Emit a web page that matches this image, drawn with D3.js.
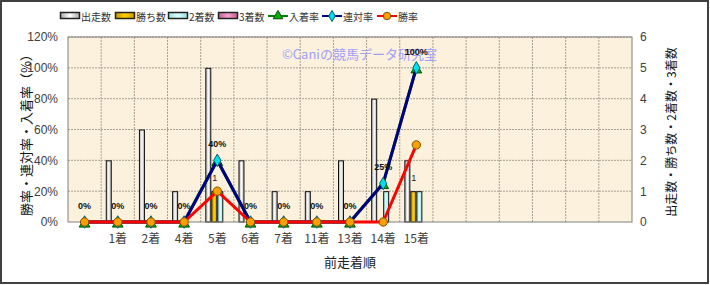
<!DOCTYPE html>
<html>
<head>
<meta charset="utf-8">
<script src="https://cdn.jsdelivr.net/npm/d3@7"></script>
<style>
body { margin: 0; background: #fff; }
svg text { font-family: "Liberation Sans", "Noto Sans CJK JP", sans-serif; }
.jp { font-family: "Noto Sans CJK JP", sans-serif; }
</style>
</head>
<body>
<svg id="chart" width="710" height="285"></svg>
<script>
// categories (17 columns, first and last six have no label)
var categories = ["", "1着", "2着", "4着", "5着", "6着", "7着", "11着", "13着", "14着", "15着", "", "", "", "", "", ""];

// bar series (right axis, counts) - one per labelled category
var starts  = [null, 2, 3, 1, 5, 2, 1, 1, 2, 4, 2];
var wins    = [null, 0, 0, 0, 1, 0, 0, 0, 0, 0, 1];
var seconds = [null, 0, 0, 0, 1, 0, 0, 0, 0, 1, 1];
var thirds  = [null, 0, 0, 0, 0, 0, 0, 0, 0, 0, 0];

// line series (left axis, %)
var placeRate  = [0, 0, 0, 0, 40, 0, 0, 0, 0, 25, 100];
var rentaiRate = [0, 0, 0, 0, 40, 0, 0, 0, 0, 25, 100];
var winRate    = [0, 0, 0, 0, 20, 0, 0, 0, 0, 0, 50];

var leftTicks = [0, 20, 40, 60, 80, 100, 120];
var rightTicks = [0, 1, 2, 3, 4, 5, 6];

var svg = d3.select("#chart");
var pLeft = 68, pRight = 632, pTop = 37, pBottom = 222;

// outer frame
svg.append("rect")
  .attr("x", 1).attr("y", 1).attr("width", 707).attr("height", 282)
  .attr("fill", "#fff").attr("stroke", "#404040").attr("stroke-width", 2);

var defs = svg.append("defs");
function grad(id, edge, mid) {
  var g = defs.append("linearGradient").attr("id", id)
    .attr("x1", "0%").attr("x2", "100%").attr("y1", "0%").attr("y2", "0%");
  g.append("stop").attr("offset", "0%").attr("stop-color", edge);
  g.append("stop").attr("offset", "50%").attr("stop-color", mid);
  g.append("stop").attr("offset", "100%").attr("stop-color", edge);
}
grad("gStart", "#a8a8a8", "#ffffff");
grad("gWin", "#c89400", "#ffd200");
grad("gSecond", "#9fdede", "#d8ffff");
grad("gThird", "#c06090", "#f8a0d0");

var x = d3.scaleBand().domain(d3.range(categories.length)).range([pLeft, pRight]);
var yL = d3.scaleLinear().domain([0, 120]).range([pBottom, pTop]);
var yR = d3.scaleLinear().domain([0, 6]).range([pBottom, pTop]);

// plot background
svg.append("rect")
  .attr("x", pLeft).attr("y", pTop).attr("width", pRight - pLeft).attr("height", pBottom - pTop)
  .attr("fill", "#fbf1dc");

// grid
svg.append("g").selectAll("line").data(leftTicks.slice(1)).enter().append("line")
  .attr("x1", pLeft).attr("x2", pRight)
  .attr("y1", function(d) { return yL(d); }).attr("y2", function(d) { return yL(d); })
  .attr("stroke", "#a8a090").attr("stroke-dasharray", "2,1");
svg.append("g").selectAll("line").data(d3.range(1, categories.length)).enter().append("line")
  .attr("x1", function(d) { return x(d); }).attr("x2", function(d) { return x(d); })
  .attr("y1", pTop).attr("y2", pBottom)
  .attr("stroke", "#a8a090").attr("stroke-dasharray", "2,1");

// watermark
svg.append("text").attr("class", "jp")
  .attr("x", 282).attr("y", 59)
  .attr("fill", "#a0a0f8").attr("font-size", 13)
  .text("©Caniの競馬データ研究室");

// bars
var series = [
  { name: "出走数", values: starts, fill: "url(#gStart)" },
  { name: "勝ち数", values: wins, fill: "url(#gWin)" },
  { name: "2着数", values: seconds, fill: "url(#gSecond)" },
  { name: "3着数", values: thirds, fill: "url(#gThird)" }
];
var inner = d3.scaleBand().domain(d3.range(series.length)).range([-12, 12]);

// small value labels of win counts (mostly hidden behind bars)
svg.append("g").selectAll("text")
  .data(wins.map(function(v, i) { return { v: v, i: i }; }).filter(function(d) { return d.v > 0; }))
  .enter().append("text")
  .attr("x", function(d) { return x(d.i) + x.bandwidth() / 2 + inner(1) + 1; })
  .attr("y", function(d) { return yR(d.v) - 10; })
  .attr("font-size", 9).attr("fill", "#222")
  .text(function(d) { return d.v; });

series.forEach(function(s, k) {
  svg.append("g").selectAll("rect")
    .data(s.values.map(function(v, i) { return { v: v, i: i }; }).filter(function(d) { return d.v > 0; }))
    .enter().append("rect")
    .attr("x", function(d) { return x(d.i) + x.bandwidth() / 2 + inner(k) + 0.5; })
    .attr("y", function(d) { return yR(d.v) + 0.5; })
    .attr("width", inner.bandwidth() - 1)
    .attr("height", function(d) { return yR(0) - yR(d.v) - 0.5; })
    .attr("fill", s.fill)
    .attr("stroke", "#111").attr("stroke-width", 1);
});

// plot border
svg.append("rect")
  .attr("x", pLeft).attr("y", pTop).attr("width", pRight - pLeft).attr("height", pBottom - pTop)
  .attr("fill", "none").attr("stroke", "#808080");

// lines
var cx = function(i) { return x(i) + x.bandwidth() / 2; };
var lines = [
  { name: "入着率", values: placeRate, color: "#008000", marker: "triangle", mfill: "#00b000", mstroke: "#005000" },
  { name: "連対率", values: rentaiRate, color: "#000080", marker: "diamond", mfill: "#00e0e8", mstroke: "#006070" },
  { name: "勝率", values: winRate, color: "#ff0000", marker: "circle", mfill: "#f8a000", mstroke: "#805000" }
];
var symbolOf = { triangle: d3.symbolTriangle, diamond: d3.symbolDiamond, circle: d3.symbolCircle };
var symSize = { triangle: 50, diamond: 45, circle: 55 };

lines.forEach(function(l) {
  var line = d3.line()
    .x(function(d, i) { return cx(i); })
    .y(function(d) { return yL(d); });
  svg.append("path")
    .attr("d", line(l.values))
    .attr("fill", "none").attr("stroke", l.color).attr("stroke-width", 3)
    .attr("stroke-linejoin", "round");
  svg.append("g").selectAll("path")
    .data(l.values).enter().append("path")
    .attr("transform", function(d, i) {
      return "translate(" + cx(i) + "," + (yL(d) + (l.marker === "triangle" ? 2 : 0)) + ")";
    })
    .attr("d", d3.symbol().type(symbolOf[l.marker]).size(symSize[l.marker]))
    .attr("fill", l.mfill).attr("stroke", l.mstroke).attr("stroke-width", 1);
});

// data labels of place rate
svg.append("g").selectAll("text")
  .data(placeRate).enter().append("text")
  .attr("x", function(d, i) { return cx(i); })
  .attr("y", function(d) { return yL(d) - 13; })
  .attr("text-anchor", "middle")
  .attr("font-size", 9).attr("font-weight", "bold").attr("fill", "#111")
  .text(function(d) { return d + "%"; });

// axes
var axL = svg.append("g")
  .attr("transform", "translate(" + pLeft + ",0)")
  .call(d3.axisLeft(yL).tickValues(leftTicks).tickSize(0).tickPadding(10)
    .tickFormat(function(d) { return d + "%"; }));
var axR = svg.append("g")
  .attr("transform", "translate(" + pRight + ",0)")
  .call(d3.axisRight(yR).tickValues(rightTicks).tickSize(0).tickPadding(8)
    .tickFormat(d3.format("d")));
var axX = svg.append("g")
  .attr("transform", "translate(0," + pBottom + ")")
  .call(d3.axisBottom(x).tickSize(0).tickPadding(12)
    .tickFormat(function(i) { return categories[i]; }));
[axL, axR, axX].forEach(function(a) {
  a.select(".domain").remove();
  a.selectAll("text").attr("font-size", 12).attr("fill", "#404040");
});
axX.selectAll("text").attr("class", "jp").attr("font-size", 12);

// axis titles
svg.append("text").attr("class", "jp")
  .attr("transform", "translate(31,132) rotate(-90)")
  .attr("text-anchor", "middle").attr("font-size", 13).attr("fill", "#111")
  .text("勝率・連対率・入着率（%）");
svg.append("text").attr("class", "jp")
  .attr("transform", "translate(676,132) rotate(-90)")
  .attr("text-anchor", "middle").attr("font-size", 12).attr("fill", "#111")
  .text("出走数・勝ち数・2着数・3着数");
svg.append("text").attr("class", "jp")
  .attr("x", 350).attr("y", 267)
  .attr("text-anchor", "middle").attr("font-size", 13).attr("fill", "#222")
  .text("前走着順");

// legend
var legendItems = [
  { name: "出走数", type: "bar", fill: "url(#gStart)", x: 60 },
  { name: "勝ち数", type: "bar", fill: "url(#gWin)", x: 115 },
  { name: "2着数", type: "bar", fill: "url(#gSecond)", x: 168 },
  { name: "3着数", type: "bar", fill: "url(#gThird)", x: 218 },
  { name: "入着率", type: "line", line: lines[0], x: 268 },
  { name: "連対率", type: "line", line: lines[1], x: 322 },
  { name: "勝率", type: "line", line: lines[2], x: 377 }
];
var lg = svg.append("g").attr("transform", "translate(0,16)");
legendItems.forEach(function(it) {
  var g = lg.append("g").attr("transform", "translate(" + it.x + ",0)");
  if (it.type === "bar") {
    g.append("rect").attr("x", 0.5).attr("y", -3.5).attr("width", 19).attr("height", 6)
      .attr("fill", it.fill).attr("stroke", "#222").attr("stroke-width", 1.5);
  } else {
    g.append("line").attr("x1", 0).attr("x2", 20).attr("y1", 0).attr("y2", 0)
      .attr("stroke", it.line.color).attr("stroke-width", 2);
    g.append("path").attr("transform", "translate(10,0)")
      .attr("d", d3.symbol().type(symbolOf[it.line.marker]).size(symSize[it.line.marker] * 0.8))
      .attr("fill", it.line.mfill).attr("stroke", it.line.mstroke);
  }
  g.append("text").attr("class", "jp")
    .attr("x", 21).attr("y", 4.5)
    .attr("font-size", 10).attr("fill", "#333")
    .text(it.name);
});
</script>
</body>
</html>
